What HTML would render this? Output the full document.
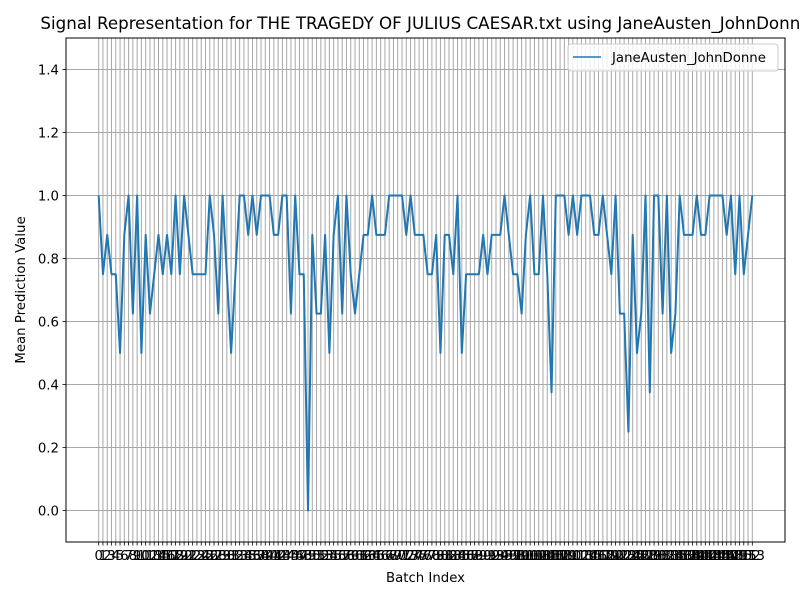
<!DOCTYPE html>
<html><head><meta charset="utf-8"><style>
html,body{margin:0;padding:0;background:#fff;}
svg{display:block;font-family:"DejaVu Sans","Liberation Sans",sans-serif;}
</style></head><body>
<svg id="chart" width="800" height="600" viewBox="0 0 800 600">
<rect x="0" y="0" width="800" height="600" fill="#fff"/>
<text x="425.5" y="29" text-anchor="middle" font-size="16.7" fill="#000">Signal Representation for THE TRAGEDY OF JULIUS CAESAR.txt using JaneAusten_JohnDonne</text>
<g id="grid"></g>
<g id="series"></g>
<g id="yticks"></g>
<g id="xticks"></g>
<rect x="66" y="38" width="719" height="504" fill="none" stroke="#000" stroke-width="1"/>
<text x="425.5" y="582" text-anchor="middle" font-size="13.3">Batch Index</text>
<text transform="translate(25,290) rotate(-90)" text-anchor="middle" font-size="13.3">Mean Prediction Value</text>
<g>
<rect x="568" y="44" width="210" height="27" rx="3" fill="#fff" fill-opacity="0.8" stroke="#ccc"/>
<line x1="573" y1="57" x2="601" y2="57" stroke="#1f77b4" stroke-width="1.5"/>
<text x="612" y="62" font-size="13.3">JaneAusten_JohnDonne</text>
</g>
</svg>
<script>
const values = [1.0,0.75,0.875,0.75,0.75,0.5,0.875,1.0,0.625,1.0,0.5,0.875,0.625,0.75,0.875,0.75,0.875,0.75,1.0,0.75,
1.0,0.875,0.75,0.75,0.75,0.75,1.0,0.875,0.625,1.0,0.75,0.5,0.75,1.0,1.0,0.875,1.0,0.875,1.0,1.0,
1.0,0.875,0.875,1.0,1.0,0.625,1.0,0.75,0.75,0.0,0.875,0.625,0.625,0.875,0.5,0.875,1.0,0.625,1.0,0.75,
0.625,0.75,0.875,0.875,1.0,0.875,0.875,0.875,1.0,1.0,1.0,1.0,0.875,1.0,0.875,0.875,0.875,0.75,0.75,0.875,
0.5,0.875,0.875,0.75,1.0,0.5,0.75,0.75,0.75,0.75,0.875,0.75,0.875,0.875,0.875,1.0,0.875,0.75,0.75,0.625,
0.875,1.0,0.75,0.75,1.0,0.75,0.375,1.0,1.0,1.0,0.875,1.0,0.875,1.0,1.0,1.0,0.875,0.875,1.0,0.875,
0.75,1.0,0.625,0.625,0.25,0.875,0.5,0.625,1.0,0.375,1.0,1.0,0.625,1.0,0.5,0.625,1.0,0.875,0.875,0.875,
1.0,0.875,0.875,1.0,1.0,1.0,1.0,0.875,1.0,0.75,1.0,0.75,0.875,1.0];
const yTickLabels = ["0.0","0.2","0.4","0.6","0.8","1.0","1.2","1.4"];
const yTickValues = [0,0.2,0.4,0.6,0.8,1.0,1.2,1.4];

const NS="http://www.w3.org/2000/svg";
const L=66,R=785,T=38,B=542;
const n=values.length;
const xmin=-(n-1)*0.05, xmax=(n-1)*1.05;
const ymin=-0.1, ymax=1.5;
function xs(i){return L+(i-xmin)/(xmax-xmin)*(R-L);}
function ys(v){return B-(v-ymin)/(ymax-ymin)*(B-T);}
function mk(tag,attrs,parent){const e=document.createElementNS(NS,tag);for(const k in attrs)e.setAttribute(k,attrs[k]);parent.appendChild(e);return e;}
const grid=document.getElementById('grid'),xt=document.getElementById('xticks'),yt=document.getElementById('yticks'),ser=document.getElementById('series');
for(let i=0;i<n;i++){
  const x=xs(i);
  const g=mk('line',{x1:x,y1:T,x2:x,y2:B,stroke:'#a8a8a8','stroke-width':1},grid);
  
  
  const tk=mk('line',{x1:x,y1:B,x2:x,y2:B+3.5,stroke:'#000','stroke-width':0.8},xt);
  
  
  const t=mk('text',{x:x,y:B+18,'text-anchor':'middle','font-size':'13.3'},xt);
  t.textContent=String(i);
  
  
}
yTickValues.forEach((v,k)=>{
  const y=ys(v);
  const g=mk('line',{x1:L,y1:y,x2:R,y2:y,stroke:'#a8a8a8','stroke-width':1},grid);
  
  
  const tk=mk('line',{x1:L-3.5,y1:y,x2:L,y2:y,stroke:'#000','stroke-width':0.8},yt);
  
  
  const t=mk('text',{x:L-7,y:y+5,'text-anchor':'end','font-size':'13.3'},yt);
  t.textContent=yTickLabels[k];
  
  
});
const pts=values.map((v,i)=>xs(i).toFixed(2)+','+ys(v).toFixed(2)).join(' ');
const pl=mk('polyline',{points:pts,fill:'none',stroke:'#1f77b4','stroke-width':2,'stroke-linejoin':'round'},ser);


</script>
</body></html>
